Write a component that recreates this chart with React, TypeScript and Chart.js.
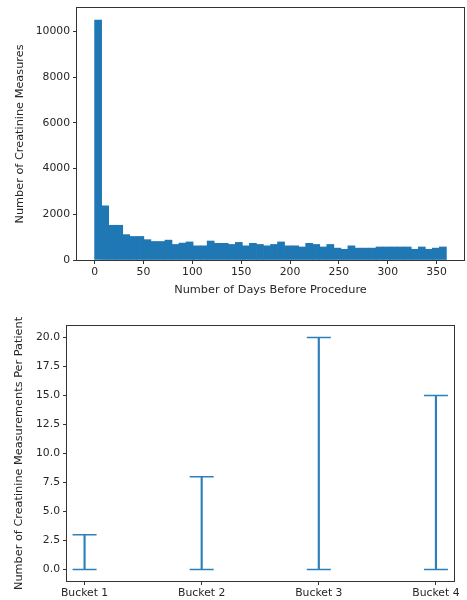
import React, { useEffect, useRef } from "react";
import { Chart, registerables } from "chart.js";

Chart.register(...registerables);

// ---- Data ----
const binWidth = 7.2; // days per histogram bin (0 .. 360, 50 bins)
const histCounts = [
  10500, 2370, 1520, 1520, 1110, 1030, 1030, 890, 810, 810,
  870, 680, 740, 790, 620, 620, 830, 730, 730, 680,
  770, 620, 730, 680, 620, 680, 790, 620, 620, 570,
  730, 680, 570, 680, 520, 470, 620, 520, 520, 520,
  570, 570, 570, 570, 570, 470, 570, 470, 520, 570,
];
const histXTicks = [0, 50, 100, 150, 200, 250, 300, 350];
const histYTicks = [0, 2000, 4000, 6000, 8000, 10000];

const buckets = ["Bucket 1", "Bucket 2", "Bucket 3", "Bucket 4"];
const bucketMin = [0, 0, 0, 0];
const bucketMax = [3, 8, 20, 15];
const bucketYTicks = [0, 2.5, 5, 7.5, 10, 12.5, 15, 17.5, 20];

// ---- Styles ----
const FONT = "'DejaVu Sans', sans-serif";
const TEXT = "#262626";
const BLUE = "#1f77b4";
const EBLUE = "#2e80bd";

const boxPlugin = {
  id: "box",
  afterDraw(chart: any) {
    const { ctx, chartArea: a } = chart;
    ctx.save();
    ctx.strokeStyle = "#333";
    ctx.lineWidth = 1;
    ctx.strokeRect(
      Math.round(a.left) - 0.5,
      Math.round(a.top) - 0.5,
      Math.round(a.right) - Math.round(a.left) + 1,
      Math.round(a.bottom) - Math.round(a.top) + 1
    );
    ctx.restore();
  },
};

const tickFont = { family: FONT, size: 10.8 };
const titleFont = { family: FONT, size: 11.3 };

function HistChart() {
  const ref = useRef<HTMLCanvasElement>(null);
  useEffect(() => {
    const data = histCounts.map((c, i) => ({ x: (i + 0.5) * binWidth, y: c }));
    const maxX = histCounts.length * binWidth;
    const maxY = Math.max(...histCounts);
    const chart = new Chart(ref.current!, {
      type: "bar",
      data: {
        datasets: [
          {
            data,
            backgroundColor: BLUE,
            borderWidth: 0,
            barPercentage: 1,
            categoryPercentage: 1,
          },
        ],
      },
      options: {
        animation: false,
        responsive: false,
        events: [],
        layout: { padding: { top: 8, right: 3, left: 0, bottom: 0 } },
        plugins: { legend: { display: false }, tooltip: { enabled: false } },
        scales: {
          x: {
            type: "linear",
            offset: false,
            min: -maxX * 0.05,
            max: maxX * 1.05,
            afterBuildTicks: (s: any) => {
              s.ticks = histXTicks.map((v) => ({ value: v }));
            },
            afterFit: (s: any) => {
              s.height = 40;
              s.paddingLeft = 0;
              s.paddingRight = 0;
            },
            grid: {
              offset: false,
              drawOnChartArea: false,
              drawTicks: true,
              tickLength: 4,
              tickColor: "#333",
            },
            border: { display: false },
            ticks: {
              font: tickFont,
              color: TEXT,
              padding: 2,
              maxRotation: 0,
              autoSkip: false,
              callback: (v: any) => String(v),
            },
            title: {
              display: true,
              text: "Number of Days Before Procedure",
              font: titleFont,
              color: TEXT,
              padding: { top: 0, bottom: 3 },
            },
          },
          y: {
            type: "linear",
            min: 0,
            max: maxY * 1.05,
            afterBuildTicks: (s: any) => {
              s.ticks = histYTicks.map((v) => ({ value: v }));
            },
            afterFit: (s: any) => {
              s.width = 77;
              s.paddingTop = 0;
              s.paddingBottom = 0;
            },
            grid: {
              drawOnChartArea: false,
              drawTicks: true,
              tickLength: 4,
              tickColor: "#333",
            },
            border: { display: false },
            ticks: {
              font: tickFont,
              color: TEXT,
              padding: 3,
              autoSkip: false,
              callback: (v: any) => String(v),
            },
            title: {
              display: true,
              text: "Number of Creatinine Measures",
              font: titleFont,
              color: TEXT,
              padding: { top: 13, bottom: 0 },
            },
          },
        },
      },
      plugins: [boxPlugin],
    } as any);
    return () => chart.destroy();
  }, []);
  return <canvas ref={ref} width={467} height={300} style={{ display: "block" }} />;
}

function ErrChart() {
  const ref = useRef<HTMLCanvasElement>(null);
  useEffect(() => {
    const n = buckets.length;
    const span = n - 1;
    const yMax = Math.max(...bucketMax);
    const chart = new Chart(ref.current!, {
      type: "bar",
      data: {
        datasets: [
          {
            type: "bar",
            data: buckets.map((_, i) => ({ x: i, y: [bucketMin[i], bucketMax[i]] })),
            backgroundColor: EBLUE,
            borderWidth: 0,
            barThickness: 1.5,
          },
          {
            type: "scatter",
            data: buckets.map((_, i) => ({ x: i, y: bucketMax[i] })),
            pointStyle: "line",
            pointRadius: 12,
            borderColor: EBLUE,
            borderWidth: 1.5,
          },
          {
            type: "scatter",
            data: buckets.map((_, i) => ({ x: i, y: bucketMin[i] })),
            pointStyle: "line",
            pointRadius: 12,
            borderColor: EBLUE,
            borderWidth: 1.5,
          },
        ],
      },
      options: {
        animation: false,
        responsive: false,
        events: [],
        layout: { padding: { top: 26, right: 10, left: 0, bottom: 0 } },
        plugins: { legend: { display: false }, tooltip: { enabled: false } },
        scales: {
          x: {
            type: "linear",
            min: -span * 0.05,
            max: span * 1.05,
            afterBuildTicks: (s: any) => {
              s.ticks = buckets.map((_, i) => ({ value: i }));
            },
            afterFit: (s: any) => {
              s.height = 19;
              s.paddingLeft = 0;
              s.paddingRight = 0;
            },
            grid: {
              drawOnChartArea: false,
              drawTicks: true,
              tickLength: 4,
              tickColor: "#333",
              offset: false,
            },
            offset: false,
            border: { display: false },
            ticks: {
              font: tickFont,
              color: TEXT,
              padding: 2,
              maxRotation: 0,
              autoSkip: false,
              callback: (v: any) => buckets[Math.round(v)] ?? "",
            },
          },
          y: {
            type: "linear",
            min: -yMax * 0.05,
            max: yMax * 1.05,
            afterBuildTicks: (s: any) => {
              s.ticks = bucketYTicks.map((v) => ({ value: v }));
            },
            afterFit: (s: any) => {
              s.width = 67;
              s.paddingTop = 0;
              s.paddingBottom = 0;
            },
            grid: {
              drawOnChartArea: false,
              drawTicks: true,
              tickLength: 4,
              tickColor: "#333",
            },
            border: { display: false },
            ticks: {
              font: tickFont,
              color: TEXT,
              padding: 3,
              autoSkip: false,
              callback: (v: any) => Number(v).toFixed(1),
            },
            title: {
              display: true,
              text: "Number of Creatinine Measurements Per Patient",
              font: titleFont,
              color: TEXT,
              padding: { top: 12, bottom: 0 },
            },
          },
        },
      },
      plugins: [boxPlugin],
    } as any);
    return () => chart.destroy();
  }, []);
  return <canvas ref={ref} width={467} height={300} style={{ display: "block" }} />;
}

export default function App() {
  return (
    <div
      style={{
        position: "absolute",
        left: 0,
        top: 0,
        width: 467,
        height: 600,
        background: "#fff",
      }}
    >
      <HistChart />
      <ErrChart />
    </div>
  );
}
